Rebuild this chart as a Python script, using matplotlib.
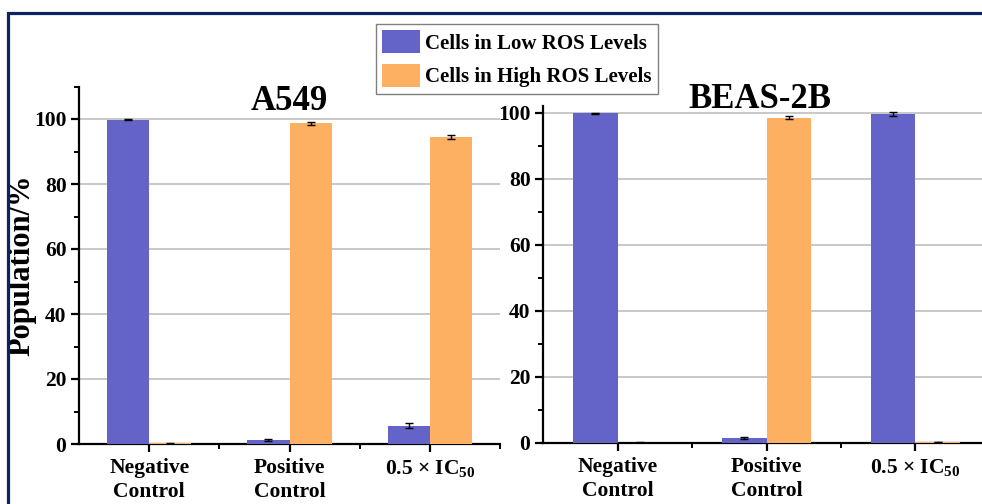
import matplotlib
matplotlib.use("Agg")
import matplotlib.pyplot as plt
import matplotlib.ticker as ticker
from matplotlib.patches import Rectangle, Patch
import numpy as np

plt.rcParams['font.family'] = ['Liberation Serif', 'DejaVu Serif']
plt.rcParams['font.weight'] = 'bold'
plt.rcParams['mathtext.fontset'] = 'custom'
plt.rcParams['mathtext.rm'] = 'Liberation Serif:bold'
plt.rcParams['mathtext.bf'] = 'Liberation Serif:bold'
plt.rcParams['mathtext.it'] = 'Liberation Serif:bold'
plt.rcParams['mathtext.default'] = 'bf'

categories = ["Negative\nControl", "Positive\nControl", "0.5 \u00d7 IC$_{50}$"]
seriesNames = ["Cells in Low ROS Levels", "Cells in High ROS Levels"]

a549Low = [99.8, 1.3, 5.6]
a549LowErr = [0.2, 0.3, 0.8]
a549High = [0.2, 98.7, 94.4]
a549HighErr = [0.1, 0.4, 0.6]

beasLow = [99.9, 1.4, 99.7]
beasLowErr = [0.1, 0.3, 0.6]
beasHigh = [0.1, 98.6, 0.3]
beasHighErr = [0.1, 0.4, 0.1]

blue = '#6464c8'
orange = '#fdb062'

W, H = 982, 504
fig = plt.figure(figsize=(W / 100, H / 100), dpi=100)

def box(x0, x1, ytop, ybot):
    return [x0 / W, 1 - ybot / H, (x1 - x0) / W, (ybot - ytop) / H]

ax1 = fig.add_axes(box(79, 500, 86.5, 444))
ax2 = fig.add_axes(box(543, 990, 106.4, 443))

def panel(ax, low, lowErr, high, highErr, ymax):
    x = np.arange(len(categories))
    w = 0.3
    ax.bar(x - w / 2, low, w, color=blue, zorder=3)
    ax.bar(x + w / 2, high, w, color=orange, zorder=3)
    ax.errorbar(x - w / 2, low, yerr=lowErr, fmt='none', ecolor='black',
                elinewidth=1, capsize=3, capthick=1, zorder=4)
    ax.errorbar(x + w / 2, high, yerr=highErr, fmt='none', ecolor='black',
                elinewidth=1, capsize=3, capthick=1, zorder=4)
    ax.set_xlim(-0.5, 2.5)
    ax.set_ylim(0, ymax)
    ax.set_xticks(x)
    ax.set_xticklabels(categories, fontsize=16, fontweight='bold', linespacing=1.3)
    ax.xaxis.set_minor_locator(ticker.FixedLocator([0.5, 1.5, 2.5]))
    ax.yaxis.set_major_locator(ticker.MultipleLocator(20))
    ax.yaxis.set_minor_locator(ticker.MultipleLocator(10))
    for sp in ['top', 'right']:
        ax.spines[sp].set_visible(False)
    for sp in ['left', 'bottom']:
        ax.spines[sp].set_linewidth(1.6)
    ax.tick_params(axis='both', which='major', length=6, width=1.6, labelsize=15.5, pad=3)
    ax.tick_params(axis='x', which='major', pad=4)
    ax.tick_params(axis='both', which='minor', length=3.5, width=1.4)
    for lbl in ax.get_yticklabels():
        lbl.set_fontweight('bold')
    for yv in range(20, 101, 20):
        ax.axhline(yv, color='#c4c4c4', lw=1.3, zorder=1)

panel(ax1, a549Low, a549LowErr, a549High, a549HighErr, 110)
panel(ax2, beasLow, beasLowErr, beasHigh, beasHighErr, 102)

ax1.text(0.5, 0.933, "A549", transform=ax1.transAxes, ha='center', va='baseline',
         fontsize=25, fontweight='bold')
ax2.text(0.486, 0.995, "BEAS-2B", transform=ax2.transAxes, ha='center', va='baseline',
         fontsize=25, fontweight='bold')

fig.text(22 / W, 1 - 265 / H, "Population/%", rotation=90, ha='center', va='center',
         fontsize=22, fontweight='bold')

handles = [Patch(facecolor=blue), Patch(facecolor=orange)]
leg = fig.legend(handles, seriesNames, loc='upper left',
                 bbox_to_anchor=(376 / W, 1 - 24 / H), borderaxespad=0,
                 fancybox=False, framealpha=1, edgecolor='#808080',
                 prop={'size': 15, 'weight': 'bold'}, handlelength=1.8,
                 handleheight=1.3, handletextpad=0.25, labelspacing=0.5,
                 borderpad=0.3)
leg.get_frame().set_linewidth(1.0)

# dark frame round the figure
fig.patches.append(Rectangle((7.5 / W, -0.2), 1.2, 1.2 - 13.5 / H,
                             transform=fig.transFigure, fill=False,
                             edgecolor='#0b2265', lw=2.3, zorder=10))

fig.savefig("out.png", dpi=100)
